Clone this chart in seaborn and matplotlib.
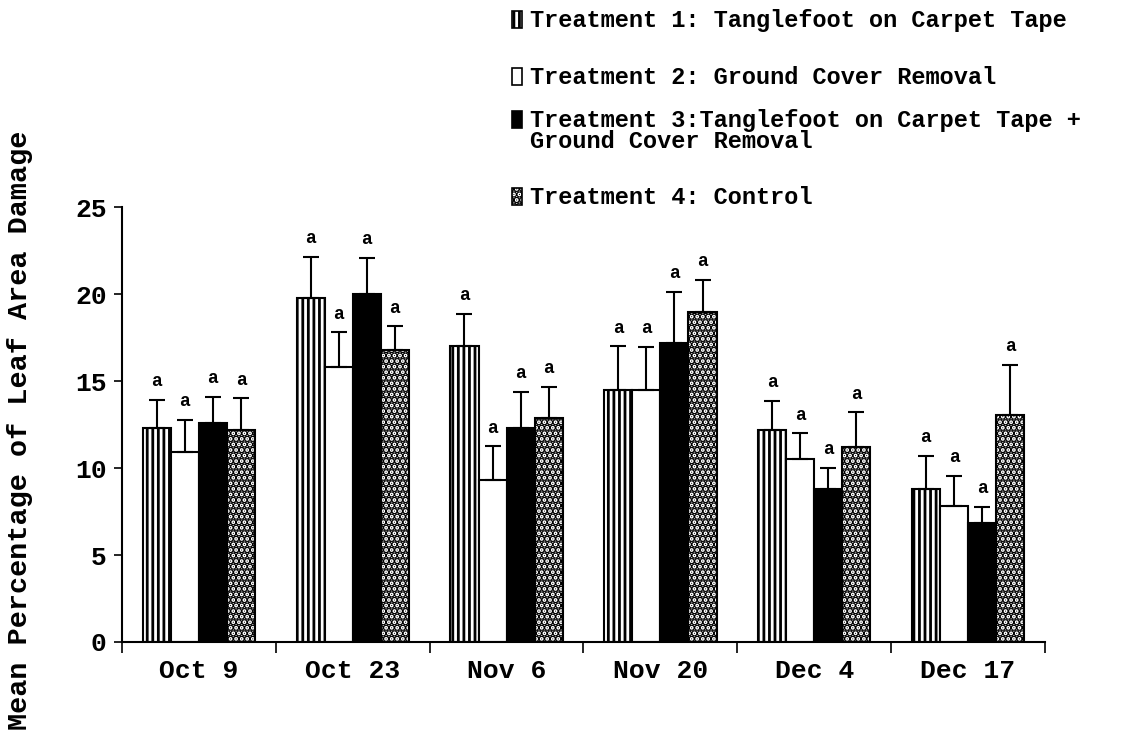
import matplotlib
matplotlib.use('Agg')
import matplotlib.pyplot as plt
from matplotlib.patches import Rectangle
import pandas as pd
import numpy as np
import seaborn as sns

dates = ['Oct 9', 'Oct 23', 'Nov 6', 'Nov 20', 'Dec 4', 'Dec 17']
treatments = ['Treatment 1', 'Treatment 2', 'Treatment 3', 'Treatment 4']

t1 = [12.3, 19.8, 17.0, 14.5, 12.2, 8.8]
t1_se = [1.6, 2.35, 1.85, 2.5, 1.65, 1.9]
t2 = [10.9, 15.8, 9.3, 14.5, 10.5, 7.8]
t2_se = [1.85, 2.0, 1.95, 2.45, 1.5, 1.75]
t3 = [12.6, 20.0, 12.3, 17.2, 8.8, 6.85]
t3_se = [1.5, 2.1, 2.1, 2.95, 1.2, 0.9]
t4 = [12.2, 16.8, 12.9, 19.0, 11.2, 13.05]
t4_se = [1.8, 1.35, 1.75, 1.8, 2.0, 2.9]
letters = ['a'] * 6

legend_labels = ['Treatment 1: Tanglefoot on Carpet Tape',
                 'Treatment 2: Ground Cover Removal',
                 'Treatment 3:Tanglefoot on Carpet Tape +',
                 'Treatment 4: Control']

means = [t1, t2, t3, t4]
ses = [t1_se, t2_se, t3_se, t4_se]

df = pd.DataFrame({
    'date': dates * 4,
    'treatment': np.repeat(treatments, len(dates)),
    'damage': t1 + t2 + t3 + t4,
})

plt.rcParams['font.family'] = ['Liberation Mono', 'DejaVu Sans Mono']
plt.rcParams['font.weight'] = 'bold'
plt.rcParams['hatch.linewidth'] = 2.0

fills = ['white', 'white', 'black', 'white']
hatches = ['|||', '', '', '...']
hatch_lw = [2.0, 1.0, 1.0, 3.6]


def style_patch(p, i):
    p.set_hatch(hatches[i])
    p.set_facecolor(fills[i])
    p.set_edgecolor('black')
    if hasattr(p, 'set_hatch_linewidth'):
        p.set_hatch_linewidth(hatch_lw[i])


fig = plt.figure(figsize=(11.33, 7.32), dpi=100)
ax = fig.add_axes([0.1077, 0.123, 0.8146, 0.594])

sns.barplot(data=df, x='date', y='damage', hue='treatment', palette=fills,
            edgecolor='black', linewidth=1.5, width=0.73, errorbar=None,
            legend=False, ax=ax)

bar_groups = list(ax.containers)
for i, cont in enumerate(bar_groups):
    xs, ys = [], []
    for b in cont.patches:
        style_patch(b, i)
        xs.append(b.get_x() + b.get_width() / 2)
        ys.append(b.get_height())
    se = np.array(ses[i])
    ax.errorbar(xs, ys, yerr=[np.zeros(len(se)), se], fmt='none', ecolor='black',
                elinewidth=1.5, capsize=6, capthick=1.5)
    for x, y, s, lt in zip(xs, ys, se, letters):
        ax.annotate(lt, (x, y + s), xytext=(0, 7), textcoords='offset points',
                    ha='center', va='bottom', fontsize=13, fontweight='bold')

ax.set_xlim(-0.5, 5.5)
ax.set_ylim(0, 25)
ax.set_yticks([0, 5, 10, 15, 20, 25])
ax.set_xticks(np.arange(-0.5, 6, 1), minor=True)
ax.tick_params(axis='x', which='major', length=0, pad=12, labelsize=19)
ax.tick_params(axis='x', which='minor', length=8, width=1.2, direction='out')
ax.tick_params(axis='y', length=6, width=1.2, direction='out', labelsize=19, pad=5)
for s in ['top', 'right']:
    ax.spines[s].set_visible(False)
for s in ['left', 'bottom']:
    ax.spines[s].set_linewidth(1.5)
ax.set_xlabel('')
ax.set_ylabel('Mean Percentage of Leaf Area Damage', fontsize=20.5, fontweight='bold')
ax.yaxis.set_label_coords(-0.096, 0.487)

# legend drawn by hand (handle aligned with first text line)
rows_y = [20, 77, 120, 197]
for i, yc in enumerate(rows_y):
    r = Rectangle((512 / 1133, 1 - (yc + 8) / 732), 10 / 1133, 17 / 732,
                  transform=fig.transFigure, linewidth=1.2)
    style_patch(r, i)
    fig.add_artist(r)
    fig.text(530 / 1133, 1 - yc / 732, legend_labels[i], fontsize=17,
             fontweight='bold', va='center', ha='left')
fig.text(530 / 1133, 1 - 142 / 732, 'Ground Cover Removal', fontsize=17,
         fontweight='bold', va='center', ha='left')

fig.savefig('out.png', dpi=100)
